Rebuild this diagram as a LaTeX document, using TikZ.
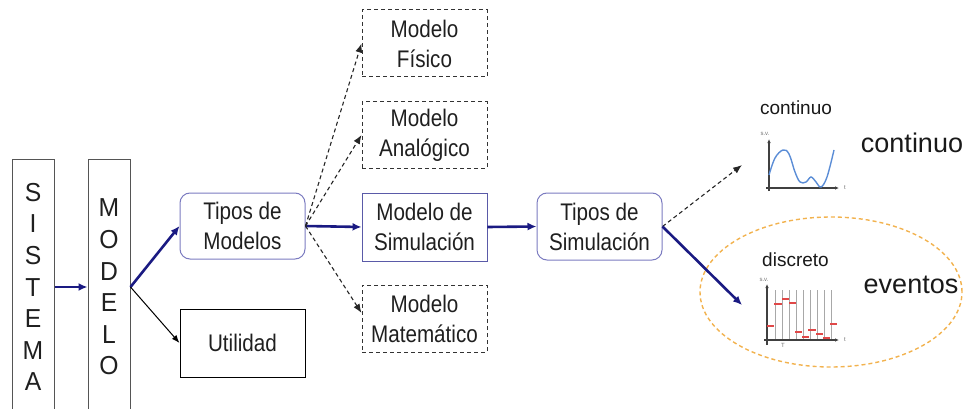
\documentclass[tikz,border=0pt]{standalone}
\usepackage{fontspec}
\setmainfont{Liberation Sans}
\newfontfamily\boxfont[FakeStretch=0.86]{Liberation Sans}
\newfontfamily\letterfont[FakeStretch=0.95]{Liberation Sans}
\usetikzlibrary{arrows.meta,shapes.geometric}
\definecolor{navy}{HTML}{1A1A82}
\definecolor{roundborder}{HTML}{7B7BC0}
\definecolor{simborder}{HTML}{5A5AA8}
\definecolor{grayborder}{HTML}{555555}
\definecolor{evorange}{HTML}{F2B24E}
\definecolor{curveblue}{HTML}{5B8DD6}
\definecolor{stepred}{HTML}{E04848}
\definecolor{gridgray}{HTML}{A8A8A8}
\tikzset{
  boxtext/.style={font=\boxfont\fontsize{24}{30}\selectfont, align=center, text=black!88},
  roundbox/.style={boxtext, draw=roundborder, line width=1pt, rounded corners=10pt, minimum width=125pt},
  plainbox/.style={boxtext, draw=black, line width=1pt, minimum width=125pt},
  simbox/.style={boxtext, draw=simborder, line width=0.9pt, minimum width=125pt},
  dashbox/.style={boxtext, draw=black!80, line width=1pt, dash pattern=on 4pt off 3pt, minimum width=125pt},
  letterbox/.style={draw=grayborder, line width=1pt, minimum width=42pt, minimum height=256pt, align=center, font=\letterfont\fontsize{26}{31.6}\selectfont, text=black!88},
  bluearrow/.style={draw=navy, line width=2.6pt, -{Latex[length=9pt,width=8pt]}},
  thinarrow/.style={draw=black, line width=1pt, -{Latex[length=8pt,width=6pt]}},
  dasharrow/.style={draw=black!85, line width=1.1pt, dash pattern=on 4pt off 3pt, -{Latex[length=9pt,width=7pt]}},
  axis/.style={draw=black!75, line width=1.3pt, -{Latex[length=4pt,width=3.5pt]}},
  tiny/.style={font=\fontsize{6}{6}\selectfont, text=black!55, inner sep=0pt},
  lbl/.style={font=\fontsize{19}{19}\selectfont, text=black!90, anchor=base, inner sep=0pt},
  biglbl/.style={font=\fontsize{27}{27}\selectfont, text=black!90, anchor=base, inner sep=0pt},
}
\begin{document}
\begin{tikzpicture}[x=1pt,y=-1pt]
\useasboundingbox (0,0) rectangle (963,409);
\clip (0,0) rectangle (963,409);

% left boxes
\node[letterbox] (sist) at (33,287) {S\\I\\S\\T\\E\\M\\A};
\node[letterbox] (mod) at (109,287) {M\\O\\D\\E\\L\\O};

% main boxes
\node[roundbox, minimum height=66pt] (tm) at (242.5,226) {Tipos de\\Modelos};
\node[plainbox, minimum height=68pt] (ut) at (242.5,343) {Utilidad};
\node[dashbox, minimum height=67pt] (mf) at (424.5,43.5) {Modelo\\Físico};
\node[dashbox, minimum height=66pt] (ma) at (424.5,135) {Modelo\\Analógico};
\node[simbox, minimum height=68pt] (ms) at (424.5,227) {Modelo de\\Simulación};
\node[dashbox, minimum height=67pt] (mm) at (424.5,318.5) {Modelo\\Matemático};
\node[roundbox, minimum height=67pt] (ts) at (599.5,226.5) {Tipos de\\Simulación};

% ellipse
\node[ellipse, draw=evorange, line width=1.4pt, dash pattern=on 4pt off 3pt, minimum width=262pt, minimum height=150pt, inner sep=0pt] (ev) at (831,292) {};

% labels
\node[lbl] (lc) at (796,115) {continuo};
\node[biglbl] (bc) at (912,152) {continuo};
\node[lbl] (ld) at (795.5,266) {discreto};
\node[biglbl] (be) at (911,293) {eventos};

% arrow end coordinates
\coordinate (gc) at (742,165);
\coordinate (gd) at (742,305);

% connectors
\draw[bluearrow] (sist.east) -- (mod.west);
\draw[bluearrow] (mod.east) -- (tm.west);
\draw[thinarrow] (mod.east) -- (ut.west);
\draw[bluearrow] (tm.east) -- (ms.west);
\draw[bluearrow] (ms.east) -- (ts.west);
\draw[dasharrow] (tm.east) -- (mf.west);
\draw[dasharrow] (tm.east) -- (ma.west);
\draw[dasharrow] (tm.east) -- (mm.175);
\draw[dasharrow] (ts.east) -- (gc);
\draw[bluearrow] (ts.east) -- (gd);

% continuous graph
\draw[axis] (769,191) -- (769,139);
\draw[axis] (766,188) -- (839,188);
\node[tiny] (sv1) at (765,134) {s.v.};
\node[tiny] (t1) at (845,188) {t};
\draw[curveblue, line width=1.4pt] plot[smooth, tension=0.6] coordinates {(769,175) (775,158) (783,150) (789,154) (795,172) (800,182) (806,182) (811,177) (816,182) (821,187) (827,177) (834,150)};

% discrete graph
\foreach \gx in {775,782,789,796,803,810,817,824,831}
  \draw[gridgray, line width=0.8pt] (\gx,290) -- (\gx,340);
\draw[axis] (767,345) -- (767,284);
\draw[axis] (764,340) -- (839,340);
\node[tiny] (sv2) at (764,280) {s.v.};
\node[tiny] (t2) at (845,340) {t};
\node[tiny] (tt) at (783,345) {T};
\foreach \xa/\xb/\yy in {767/774/326, 774/782/304, 782/789/299, 789/796/303, 795/802/332, 802/809/337, 808/816/330, 816/823/334, 823/830/338, 830/837/324}
  \draw[stepred, line width=1.6pt] (\xa,\yy) -- (\xb,\yy);
\end{tikzpicture}
\end{document}
